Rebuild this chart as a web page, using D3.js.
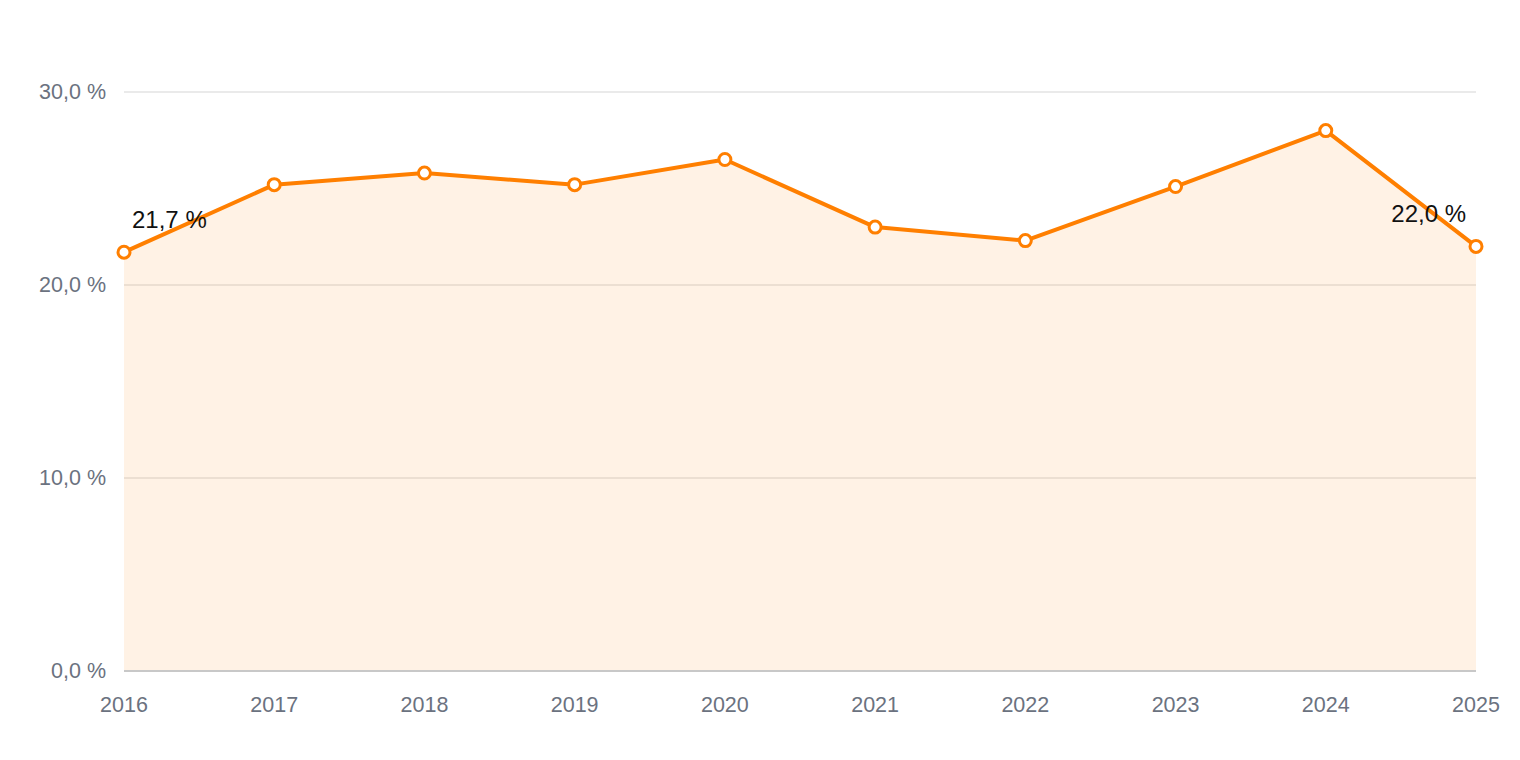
<!DOCTYPE html>
<html>
<head>
<meta charset="utf-8">
<script src="https://cdn.jsdelivr.net/npm/d3@7"></script>
<style>
  body { margin: 0; background: #fff; }
  svg { display: block; font-family: "Liberation Sans", Arial, sans-serif; }
</style>
</head>
<body>
<script>
// --- Data ---
const years = [2016, 2017, 2018, 2019, 2020, 2021, 2022, 2023, 2024, 2025];
const values = [21.7, 25.2, 25.8, 25.2, 26.5, 23.0, 22.3, 25.1, 28.0, 22.0];
const yTicks = [0, 10, 20, 30];
const labelled = [0, 9]; // indices that get a value label

// --- Layout ---
const W = 1520, H = 760;
const M = { left: 124, right: 1476, top: 92, bottom: 671 };
const ORANGE = "#ff7f00";

const fmt = v => v.toFixed(1).replace(".", ",") + " %";

const svg = d3.select("body").append("svg")
  .attr("width", W).attr("height", H);

const x = d3.scalePoint().domain(years).range([M.left, M.right]);
const y = d3.scaleLinear().domain([0, 30]).range([M.bottom, M.top]);

const data = years.map((yr, i) => ({ year: yr, value: values[i] }));

// Grid lines
svg.append("g")
  .selectAll("line")
  .data(yTicks.filter(t => t > 0))
  .join("line")
  .attr("x1", M.left).attr("x2", M.right)
  .attr("y1", d => y(d)).attr("y2", d => y(d))
  .attr("stroke", "#e3e3e3").attr("stroke-width", 1.5);

// Area
svg.append("path")
  .datum(data)
  .attr("fill", ORANGE).attr("fill-opacity", 0.1)
  .attr("d", d3.area().x(d => x(d.year)).y0(y(0)).y1(d => y(d.value)));

// Baseline
svg.append("line")
  .attr("x1", M.left).attr("x2", M.right)
  .attr("y1", y(0)).attr("y2", y(0))
  .attr("stroke", "#c8c8c8").attr("stroke-width", 2);

// Y axis labels
svg.append("g")
  .selectAll("text")
  .data(yTicks)
  .join("text")
  .attr("x", 106).attr("y", d => y(d) + 7)
  .attr("text-anchor", "end")
  .attr("font-size", 21.5)
  .attr("fill", "#6b7280")
  .text(d => fmt(d));

// X axis labels
svg.append("g")
  .selectAll("text")
  .data(years)
  .join("text")
  .attr("x", d => x(d)).attr("y", 712)
  .attr("text-anchor", "middle")
  .attr("font-size", 21.5)
  .attr("fill", "#6b7280")
  .text(d => d);

// Line
svg.append("path")
  .datum(data)
  .attr("fill", "none")
  .attr("stroke", ORANGE).attr("stroke-width", 4)
  .attr("stroke-linejoin", "round")
  .attr("d", d3.line().x(d => x(d.year)).y(d => y(d.value)));

// Points
svg.append("g")
  .selectAll("circle")
  .data(data)
  .join("circle")
  .attr("cx", d => x(d.year)).attr("cy", d => y(d.value))
  .attr("r", 6)
  .attr("fill", "#fff")
  .attr("stroke", ORANGE).attr("stroke-width", 3);

// Value labels
svg.append("g")
  .selectAll("text")
  .data(labelled.map(i => data[i]))
  .join("text")
  .attr("x", (d, i) => i === 0 ? x(d.year) + 8 : x(d.year) - 10)
  .attr("y", d => y(d.value) - 24)
  .attr("text-anchor", (d, i) => i === 0 ? "start" : "end")
  .attr("font-size", 24)
  .attr("fill", "#111")
  .text(d => fmt(d.value));
</script>
</body>
</html>
